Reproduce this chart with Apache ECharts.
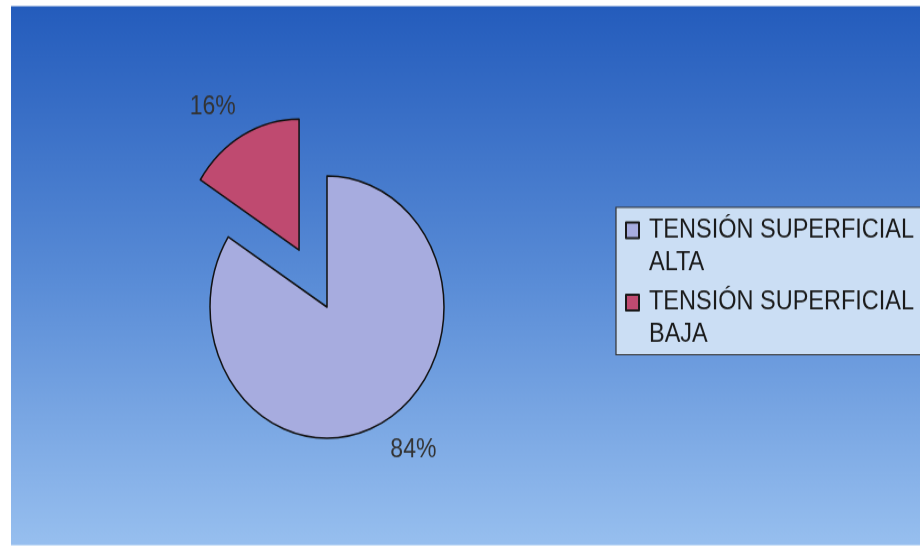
<!DOCTYPE html>
<html>
<head>
<meta charset="utf-8">
<script src="https://cdn.jsdelivr.net/npm/echarts@6/dist/echarts.min.js"></script>
<style>
  html, body { margin: 0; padding: 0; background: #ffffff; overflow: hidden; }
  #chart { position: absolute; left: 0; top: 0; width: 920px; height: 489px;
           transform: scaleY(1.1207); transform-origin: 0 0; }
</style>
</head>
<body>
<div id="chart"></div>
<script>
// ---- data ----
const categories = ['TENSIÓN SUPERFICIAL ALTA', 'TENSIÓN SUPERFICIAL BAJA'];
const values = [84, 16];
const explodedIndex = 1;

// ---- styles ----
const sliceColors = ['#a7acdf', '#bf4a70'];
const fontFamily = '"Liberation Sans", Arial, sans-serif';

const chart = echarts.init(document.getElementById('chart'));

const pieData = categories.map((name, i) => ({
  name: name,
  value: values[i],
  selected: i === explodedIndex,
  itemStyle: { color: sliceColors[i] },
  select: { itemStyle: { color: sliceColors[i] } }
}));

chart.setOption({
  animation: false,
  backgroundColor: '#ffffff',
  graphic: [{
    type: 'rect',
    z: -10,
    silent: true,
    shape: { x: 11, y: 5.5, width: 915, height: 481 },
    style: {
      fill: new echarts.graphic.LinearGradient(0, 0, 0, 1, [
        { offset: 0, color: '#245cbc' },
        { offset: 0.5, color: '#588bd6' },
        { offset: 1, color: '#97bfef' }
      ])
    }
  }],
  legend: {
    orient: 'vertical',
    left: 616,
    top: 185,
    padding: [5, 10, 2, 9],
    itemGap: 4.5,
    itemWidth: 13,
    itemHeight: 58,
    icon: 'path://M0,7.5L13,7.5L13,21.5L0,21.5ZM0,0M0,58',
    itemStyle: { borderColor: '#1a1a1a', borderWidth: 2 },
    backgroundColor: '#cbdef4',
    borderColor: '#333333',
    borderWidth: 1.2,
    selectedMode: false,
    formatter: name => name.replace(/ (\S+)$/, '\n$1'),
    textStyle: {
      color: '#1a1a1a',
      fontSize: 23.5,
      lineHeight: 29,
      fontFamily: fontFamily,
      padding: [0, 0, 0, 5]
    },
    data: categories
  },
  series: [{
    type: 'pie',
    center: [327, 274],
    radius: 117,
    startAngle: 90,
    clockwise: true,
    selectedMode: 'single',
    selectedOffset: 58,
    percentPrecision: 0,
    avoidLabelOverlap: false,
    itemStyle: { borderColor: '#111111', borderWidth: 1.5 },
    emphasis: { disabled: true },
    label: {
      show: true,
      position: 'outside',
      formatter: '{d}%',
      color: '#333333',
      fontSize: 23,
      fontFamily: fontFamily,
      distanceToLabelLine: 0
    },
    labelLine: { show: false, length: 29, length2: -7 },
    data: pieData
  }]
});
</script>
</body>
</html>
